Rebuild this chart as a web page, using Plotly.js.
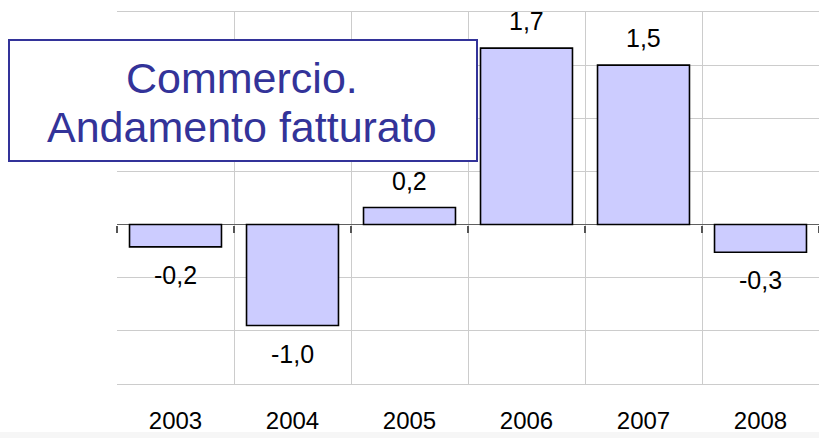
<!DOCTYPE html>
<html>
<head>
<meta charset="utf-8">
<script src="https://cdn.plot.ly/plotly-3.0.1.min.js"></script>
<style>html,body{margin:0;padding:0;background:#fff;}#chart{width:819px;height:438px;}</style>
</head>
<body>
<div id="chart"></div>
<script>
// Data
const years = ["2003", "2004", "2005", "2006", "2007", "2008"];
const values = [-0.21, -0.95, 0.16, 1.66, 1.50, -0.26];
const valueLabels = ["-0,2", "-1,0", "0,2", "1,7", "1,5", "-0,3"];
const titleLines = ["Commercio.", "Andamento fatturato"];

const FONT = "Liberation Sans, Arial, sans-serif";
const yMin = -1.5, yMax = 2.0;

const trace = {
  type: "bar",
  x: years,
  y: values,
  marker: { color: "#ccccff", line: { color: "#000000", width: 1.6 } },
  hoverinfo: "skip"
};

const labelAnnotations = years.map((yr, i) => ({
  x: i, y: values[i], xref: "x", yref: "y",
  text: valueLabels[i], showarrow: false,
  xanchor: "center", yanchor: "middle",
  yshift: values[i] >= 0 ? 27 : -28,
  font: { family: FONT, size: 25, color: "#000000" }
}));

const tickPositions = [];
for (let i = 0; i <= years.length; i++) tickPositions.push(i - 0.5);

const px2x = p => (p - 117) / 702;
const py2y = p => (384 - p) / 372;

const titleAnnotations = [
  { xref: "paper", yref: "paper", x: px2x(243), y: py2y(100.5),
    xanchor: "center", yanchor: "middle", text: " ", showarrow: false,
    width: 466, height: 119, borderpad: 0,
    bgcolor: "#ffffff", bordercolor: "#333399", borderwidth: 2,
    font: { family: FONT, size: 10, color: "#333399" } },
  { xref: "paper", yref: "paper", x: px2x(242), y: py2y(78),
    xanchor: "center", yanchor: "middle", text: titleLines[0], showarrow: false,
    font: { family: FONT, size: 43, color: "#333399" } },
  { xref: "paper", yref: "paper", x: px2x(242), y: py2y(127),
    xanchor: "center", yanchor: "middle", text: titleLines[1], showarrow: false,
    font: { family: FONT, size: 43, color: "#333399" } }
];

const layout = {
  width: 819, height: 438,
  margin: { l: 117, r: 0, t: 12, b: 54, pad: 0 },
  paper_bgcolor: "#ffffff", plot_bgcolor: "#ffffff",
  showlegend: false,
  bargap: 0.214,
  font: { family: FONT, color: "#000" },
  xaxis: {
    type: "category", categoryarray: years, range: [-0.5, years.length - 0.5],
    tickson: "boundaries", showgrid: true, gridcolor: "#cccccc", gridwidth: 1,
    ticks: "", showline: true, mirror: true, linecolor: "#cccccc", linewidth: 1,
    zeroline: false,
    tickfont: { family: FONT, size: 24, color: "#000" },
    ticklabelstandoff: 15
  },
  xaxis2: {
    overlaying: "x", anchor: "free", position: (0 - yMin) / (yMax - yMin),
    range: [-0.5, years.length - 0.5], tickmode: "array", tickvals: tickPositions,
    ticks: "outside", ticklen: 7, tickwidth: 1.3, tickcolor: "#555555",
    showticklabels: false, showgrid: false, zeroline: false, showline: false
  },
  yaxis: {
    range: [yMin, yMax], dtick: 0.5, tick0: 0,
    showgrid: true, gridcolor: "#cccccc", gridwidth: 1,
    showticklabels: false, ticks: "",
    zeroline: true, zerolinecolor: "#606060", zerolinewidth: 1.5, showline: false
  },
  shapes: [
    { type: "rect", xref: "paper", yref: "paper", x0: -0.2, x1: 1.01,
      y0: -0.145, y1: -0.129, fillcolor: "#f6f6f6", line: { width: 0 }, layer: "below" }
  ],
  annotations: labelAnnotations.concat(titleAnnotations)
};

// empty trace to activate xaxis2 (zero-line tick marks)
const axisTrace = { type: "scatter", x: [], y: [], xaxis: "x2", yaxis: "y", hoverinfo: "skip" };

Plotly.newPlot("chart", [trace, axisTrace], layout, { staticPlot: true, displayModeBar: false });
</script>
</body>
</html>
